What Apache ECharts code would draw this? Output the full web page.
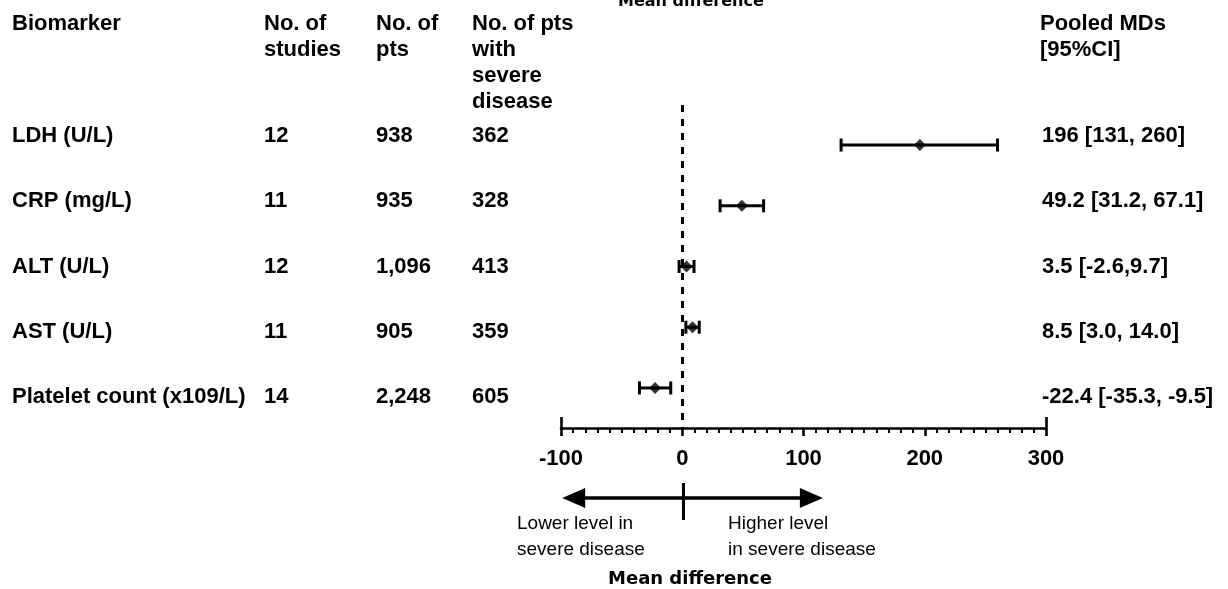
<!DOCTYPE html>
<html>
<head>
<meta charset="utf-8">
<script src="https://cdn.jsdelivr.net/npm/echarts@6/dist/echarts.min.js"></script>
<style>
  html, body { margin: 0; padding: 0; background: #fff; }
  #chart { width: 1228px; height: 589px; }
</style>
</head>
<body>
<div id="chart"></div>
<script>
// table columns
const biomarkers = ["LDH (U/L)", "CRP (mg/L)", "ALT (U/L)", "AST (U/L)", "Platelet count (x109/L)"];
const nStudies = ["12", "11", "12", "11", "14"];
const nPts = ["938", "935", "1,096", "905", "2,248"];
const nSevere = ["362", "328", "413", "359", "605"];
const pooledLabels = ["196 [131, 260]", "49.2 [31.2, 67.1]", "3.5 [-2.6,9.7]", "8.5 [3.0, 14.0]", "-22.4 [-35.3, -9.5]"];

// pooled mean differences
const meanDiff = [196, 49.2, 3.5, 8.5, -22.4];
const ciLow = [131, 31.2, -2.6, 3.0, -35.3];
const ciHigh = [260, 67.1, 9.7, 14.0, -9.5];

const xMin = -100;
const xMax = 300;
const xStep = 100;

const FONT = '"Liberation Sans", Arial, sans-serif';
const chart = echarts.init(document.getElementById("chart"), null, { renderer: "canvas" });

const ciData = meanDiff.map((m, i) => [ciLow[i], ciHigh[i], i]);
const pointData = meanDiff.map((m, i) => [m, i]);

function txt(text, x, y, opts) {
  return {
    type: "text",
    x: x,
    y: y,
    silent: true,
    style: Object.assign({
      text: text,
      font: "bold 22px " + FONT,
      fill: "#000",
      verticalAlign: "middle",
      align: "left",
    }, opts || {}),
  };
}

// header + table text
const rowY = (i) => 136 + i * 65.25;
const tableText = [];
const headStyle = { verticalAlign: "top", lineHeight: 26 };
tableText.push(txt("Biomarker", 12, 11, headStyle));
tableText.push(txt("No. of\nstudies", 264, 11, headStyle));
tableText.push(txt("No. of\npts", 376, 11, headStyle));
tableText.push(txt("No. of pts\nwith\nsevere\ndisease", 472, 11, headStyle));
tableText.push(txt("Pooled MDs\n[95%CI]", 1040, 11, headStyle));
biomarkers.forEach((b, i) => {
  tableText.push(txt(b, 12, rowY(i)));
  tableText.push(txt(nStudies[i], 264, rowY(i)));
  tableText.push(txt(nPts[i], 376, rowY(i)));
  tableText.push(txt(nSevere[i], 472, rowY(i)));
  tableText.push(txt(pooledLabels[i], 1042, rowY(i)));
});
// small cut-off title at the very top
tableText.push(txt("Mean difference", 618, 2, { font: 'bold 16px "DejaVu Sans", sans-serif' }));

const option = {
  backgroundColor: "#fff",
  animation: false,
  grid: {
    left: 561,
    width: 485,
    top: 105,
    height: 323,
    outerBoundsMode: "none",
  },
  xAxis: [
    {
      type: "value",
      min: xMin,
      max: xMax,
      interval: xStep,
      position: "bottom",
      axisLine: { onZero: false, lineStyle: { color: "#000", width: 2.6 } },
      axisTick: { length: 8, lineStyle: { color: "#000", width: 2.6 } },
      minorTick: { show: true, splitNumber: 10, length: 5, lineStyle: { color: "#000", width: 2 } },
      axisLabel: {
        color: "#000",
        fontSize: 22,
        fontWeight: "bold",
        fontFamily: FONT,
        margin: 20,
        showMinLabel: true,
        showMaxLabel: true,
      },
      splitLine: { show: false },
    },
    {
      // end caps of the axis, pointing up
      type: "value",
      min: xMin,
      max: xMax,
      interval: xMax - xMin,
      position: "bottom",
      axisLine: { show: false, onZero: false },
      axisTick: { inside: true, length: 11, lineStyle: { color: "#000", width: 2.6 } },
      axisLabel: { show: false },
      splitLine: { show: false },
    },
  ],
  yAxis: {
    type: "value",
    inverse: true,
    min: -0.66,
    max: 4.66,
    show: false,
    splitLine: { show: false },
  },
  series: [
    {
      type: "custom",
      xAxisIndex: 0,
      data: ciData,
      encode: { x: [0, 1], y: 2 },
      silent: true,
      renderItem: function (params, api) {
        const lo = api.coord([api.value(0), api.value(2)]);
        const hi = api.coord([api.value(1), api.value(2)]);
        const h = 6.5;
        const style = { stroke: "#000", lineWidth: 3 };
        return {
          type: "group",
          children: [
            { type: "line", shape: { x1: lo[0], y1: lo[1], x2: hi[0], y2: hi[1] }, style: style },
            { type: "line", shape: { x1: lo[0], y1: lo[1] - h, x2: lo[0], y2: lo[1] + h }, style: style },
            { type: "line", shape: { x1: hi[0], y1: hi[1] - h, x2: hi[0], y2: hi[1] + h }, style: style },
          ],
        };
      },
    },
    {
      type: "scatter",
      xAxisIndex: 0,
      data: pointData,
      symbol: "diamond",
      symbolSize: [12, 12],
      itemStyle: { color: "#000" },
      silent: true,
      z: 5,
      markLine: {
        silent: true,
        symbol: "none",
        label: { show: false },
        lineStyle: { color: "#000", width: 3, type: [7, 7] },
        data: [{ xAxis: 0 }],
      },
    },
  ],
  graphic: tableText,
};

chart.setOption(option);

// direction arrows under the axis
const px = (v) => chart.convertToPixel({ xAxisIndex: 0 }, v);
const arrowY = 498;
const xl = px(-99);
const xr = px(116);
const x0 = px(1);
const head = 23;
chart.setOption({
  graphic: tableText.concat([
    { type: "line", silent: true, shape: { x1: xl + head - 2, y1: arrowY, x2: xr - head + 2, y2: arrowY }, style: { stroke: "#000", lineWidth: 3.5 } },
    { type: "polygon", silent: true, shape: { points: [[xl, arrowY], [xl + head, arrowY - 10], [xl + head, arrowY + 10]] }, style: { fill: "#000" } },
    { type: "polygon", silent: true, shape: { points: [[xr, arrowY], [xr - head, arrowY - 10], [xr - head, arrowY + 10]] }, style: { fill: "#000" } },
    { type: "line", silent: true, shape: { x1: x0, y1: 483, x2: x0, y2: 520 }, style: { stroke: "#000", lineWidth: 3 } },
    txt("Lower level in\nsevere disease", 517, 511, { font: "19px " + FONT, verticalAlign: "top", lineHeight: 26 }),
    txt("Higher level\nin severe disease", 728, 511, { font: "19px " + FONT, verticalAlign: "top", lineHeight: 26 }),
    txt("Mean difference", 690, 579, { font: 'bold 18px "DejaVu Sans", sans-serif', align: "center" }),
  ]),
});
</script>
</body>
</html>
